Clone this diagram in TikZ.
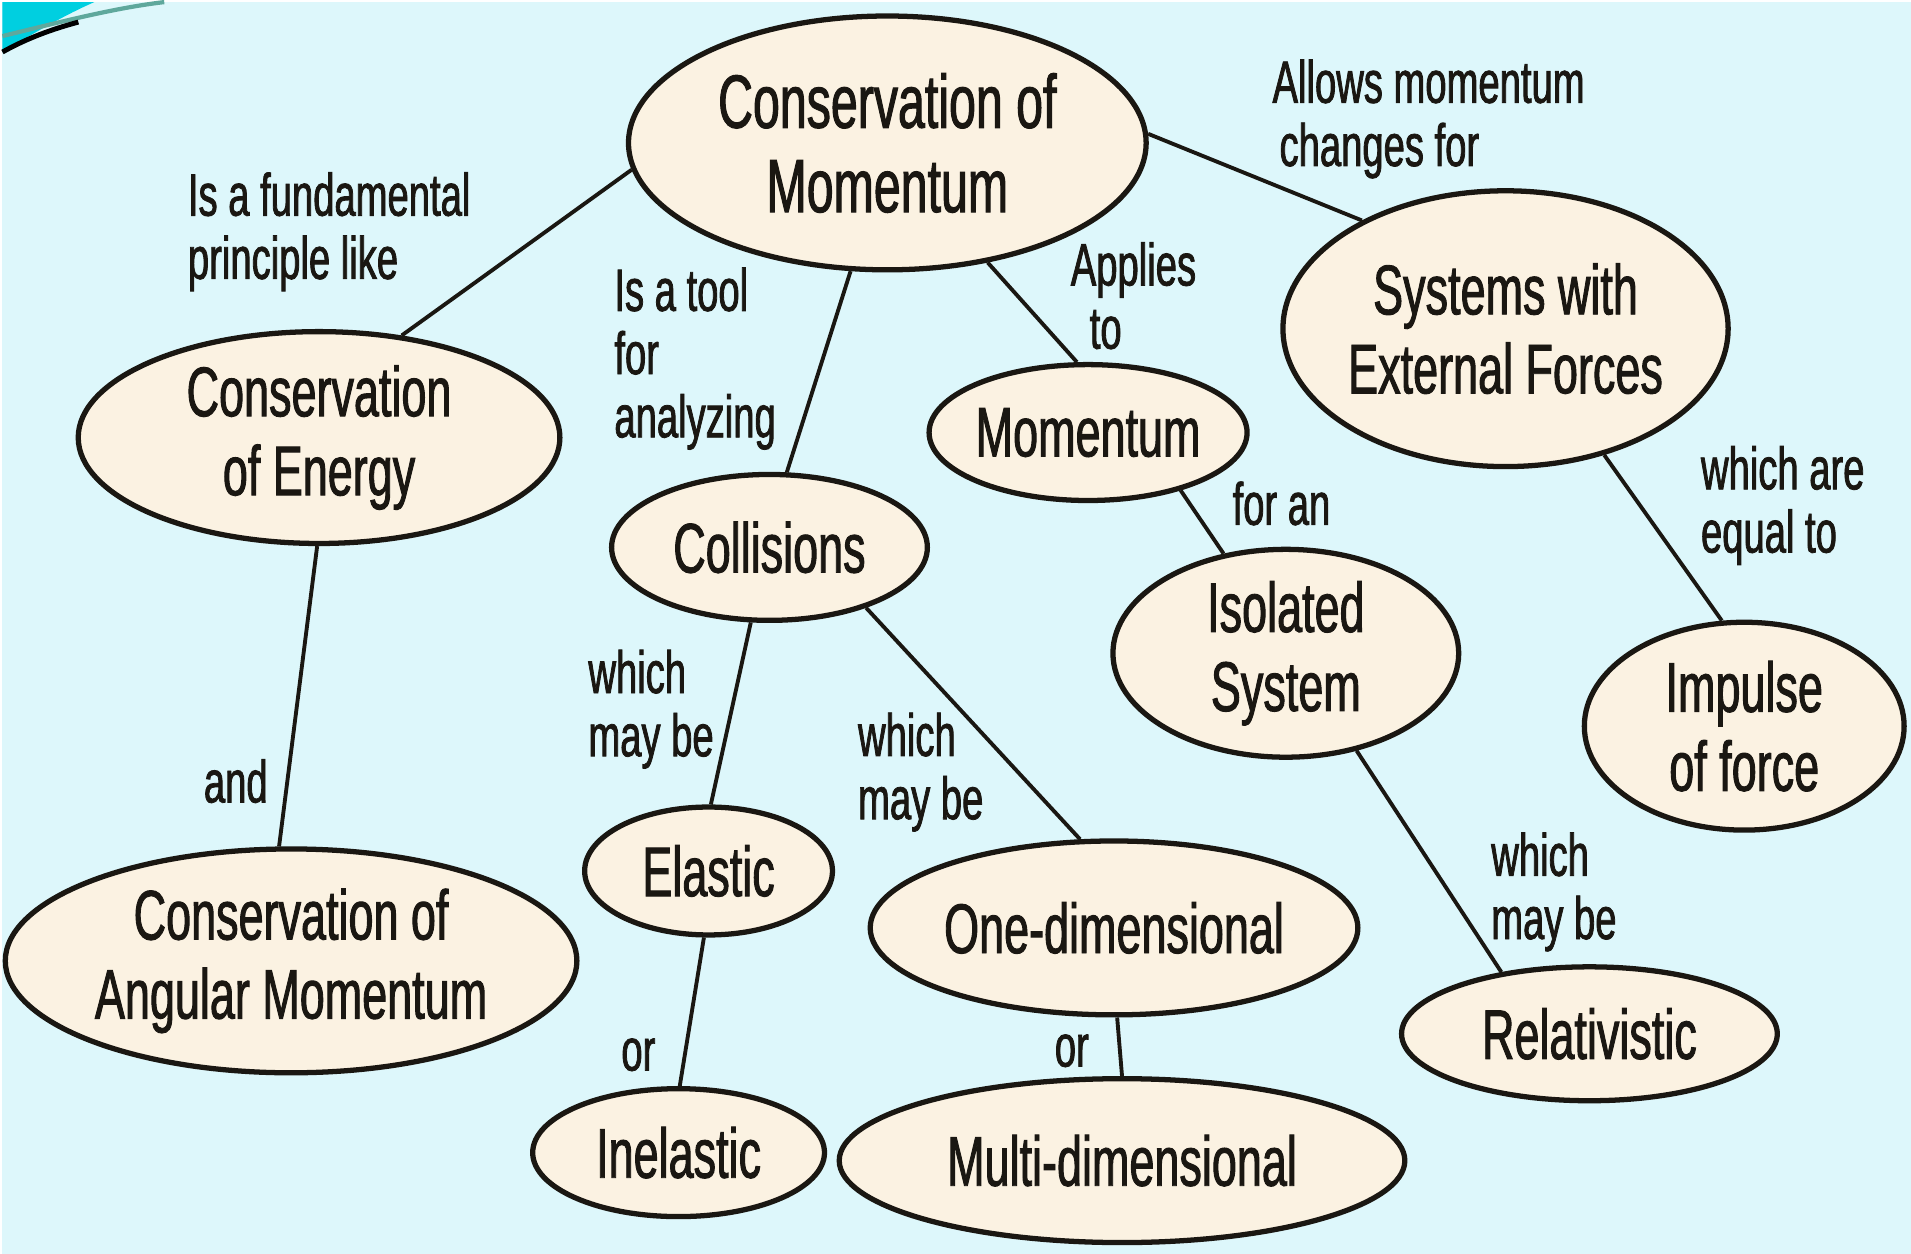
\documentclass[tikz,border=0pt]{standalone}
\usepackage{fontspec}
\setmainfont{Liberation Sans}[FakeStretch=0.64, FakeBold=1.3]
\usetikzlibrary{shapes.geometric,backgrounds}
\definecolor{paper}{HTML}{DDF7FB}
\definecolor{cream}{HTML}{FBF2E2}
\definecolor{ink}{HTML}{1A1712}
\definecolor{swoosh}{HTML}{00CFE0}
\definecolor{swline}{HTML}{5FA89C}
\tikzset{
  concept/.style={ellipse, draw=ink, fill=cream, line width=1.5pt, inner sep=0pt,
    align=center, text=ink, font=\fontsize{20}{22.5}\selectfont},
  link/.style={draw=ink, line width=1.1pt},
  lbl/.style={anchor=west, align=left, inner sep=0pt, text=ink,
    font=\fontsize{17}{18}\selectfont},
}
\begin{document}
\begin{tikzpicture}[x=0.01cm, y=-0.01cm]
\begin{scope}[on background layer]
  \fill[paper] (0,0) rectangle (1911,1253);
  % corner swoosh
  \fill[swoosh] (0,0) -- (92,0) .. controls (60,14) and (30,32) .. (0,50) -- cycle;
  \draw[swline, line width=1.2pt] (0,34) .. controls (50,22) and (110,6) .. (162,0);
  \draw[black, line width=1.4pt] (0,50) .. controls (25,36) and (50,27) .. (76,20);
\end{scope}

% concepts
\node[concept, minimum width=5.18cm, minimum height=2.54cm,
      font=\fontsize{21.5}{24}\selectfont] (com) at (886,141) {Conservation of\\Momentum};
\node[concept, minimum width=4.82cm, minimum height=2.12cm] (coe) at (317,436) {Conservation\\of Energy};
\node[concept, minimum width=5.72cm, minimum height=2.24cm] (coam) at (289,960) {Conservation of\\Angular Momentum};
\node[concept, minimum width=3.16cm, minimum height=1.46cm] (col) at (768,546) {Collisions};
\node[concept, minimum width=3.16cm, minimum height=1.36cm] (mom) at (1087,431) {Momentum};
\node[concept, minimum width=4.38cm, minimum height=2.76cm] (sys) at (1505,327) {Systems with\\External Forces};
\node[concept, minimum width=3.46cm, minimum height=2.08cm] (iso) at (1285,652) {Isolated\\System};
\node[concept, minimum width=3.20cm, minimum height=2.08cm] (imp) at (1744,725) {Impulse\\of force};
\node[concept, minimum width=2.48cm, minimum height=1.28cm] (ela) at (707,870) {Elastic};
\node[concept, minimum width=4.88cm, minimum height=1.74cm] (one) at (1113,927) {One-dimensional};
\node[concept, minimum width=3.76cm, minimum height=1.34cm] (rel) at (1589,1033) {Relativistic};
\node[concept, minimum width=2.92cm, minimum height=1.28cm] (ine) at (677,1152) {Inelastic};
\node[concept, minimum width=5.66cm, minimum height=1.64cm] (mul) at (1121,1160) {Multi-dimensional};

% links
\begin{scope}[on background layer]
  \draw[link] (com.186) -- (coe.51);
  \draw[link] (coe.269) -- (coam.96);
  \draw[link] (com.254) -- (col.77);
  \draw[link] (com.310) -- (mom.99);
  \draw[link] (com.2) -- (sys.143);
  \draw[link] (mom.328) -- (iso.122);
  \draw[link] (sys.308) -- (imp.102);
  \draw[link] (col.256) -- (ela.88);
  \draw[link] (col.328) -- (one.111);
  \draw[link] (ela.266) -- (ine.89);
  \draw[link] (one.272) -- (mul.90);
  \draw[link] (iso.306) -- (rel.145);
\end{scope}

% link labels
\node[lbl] (l1) at (185,230) {Is a fundamental\\principle like};
\node[lbl] (l2) at (612,357) {Is a tool\\for\\analyzing};
\node[lbl] (l3) at (1069,294) {Applies\\\hspace*{0.19cm}to};
\node[lbl] (l4) at (1271,117) {Allows momentum\\\hspace*{0.07cm}changes for};
\node[lbl] (l5) at (1231,502) {for an};
\node[lbl] (l6) at (1700,504) {which are\\equal to};
\node[lbl] (l7) at (201,780) {and};
\node[lbl] (l8) at (586,708) {which\\may be};
\node[lbl] (l9) at (856,771) {which\\may be};
\node[lbl] (l10) at (1490,891) {which\\may be};
\node[lbl] (l11) at (619,1054) {or};
\node[lbl] (l12) at (1053,1050) {or};
\end{tikzpicture}
\end{document}
